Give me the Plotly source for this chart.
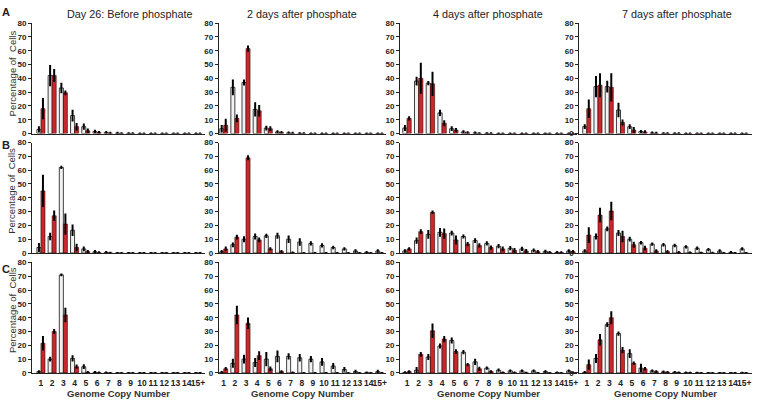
import plotly.graph_objects as go
from plotly.subplots import make_subplots

categories = ["1","2","3","4","5","6","7","8","9","10","11","12","13","14","15+"]
col_titles = ["Day 26: Before phosphate", "2 days after phosphate", "4 days after phosphate", "7 days after phosphate"]
row_labels = ["A", "B", "C"]
y_ticks = [0, 10, 20, 30, 40, 50, 60, 70, 80]

# Row A
A1_white = [3, 42, 33, 13, 5, 1.5, 0.8, 0.3, 0.2, 0, 0, 0, 0, 0, 0]
A1_white_err = [1.5, 7, 3, 3.5, 1.5, 0.5, 0.3, 0.2, 0.1, 0, 0, 0, 0, 0, 0]
A1_red = [18, 42, 29.5, 5, 2, 0.8, 0.3, 0.2, 0.1, 0, 0, 0, 0, 0, 0]
A1_red_err = [7, 4, 1, 2, 1, 0.3, 0.2, 0.1, 0.1, 0, 0, 0, 0, 0, 0]

A2_white = [3.5, 33.5, 37, 17.5, 4, 1.2, 0.5, 0.2, 0, 0, 0, 0, 0, 0, 0]
A2_white_err = [2, 5, 1.5, 4.5, 1, 0.4, 0.2, 0.1, 0, 0, 0, 0, 0, 0, 0]
A2_red = [6, 11, 61.5, 16.5, 3.5, 0.8, 0.3, 0.1, 0, 0, 0, 0, 0, 0, 0]
A2_red_err = [4, 2, 1.5, 3.5, 1, 0.3, 0.2, 0.1, 0, 0, 0, 0, 0, 0, 0]

A3_white = [4, 38, 36.5, 15, 3.5, 1.2, 0.5, 0.2, 0, 0, 0, 0, 0, 0, 0]
A3_white_err = [1.5, 2.5, 0.8, 1.5, 1, 0.4, 0.2, 0.1, 0, 0, 0, 0, 0, 0, 0]
A3_red = [11, 40, 36, 7.5, 2.5, 0.6, 0.2, 0.1, 0, 0, 0, 0, 0, 0, 0]
A3_red_err = [0.8, 10.5, 8, 1.5, 0.8, 0.3, 0.1, 0.1, 0, 0, 0, 0, 0, 0, 0]

A4_white = [5, 34, 34, 17, 5, 1.5, 0.5, 0.2, 0.1, 0, 0, 0, 0, 0, 0]
A4_white_err = [1, 7, 3.5, 4.5, 1, 0.4, 0.2, 0.1, 0.1, 0, 0, 0, 0, 0, 0]
A4_red = [18, 35, 33.5, 8, 2.5, 1.2, 0.3, 0.2, 0.1, 0, 0, 0, 0, 0, 0]
A4_red_err = [6, 8, 9.5, 1.5, 1.5, 0.4, 0.2, 0.1, 0.1, 0, 0, 0, 0, 0, 0]

# Row B
B1_white = [4, 12, 62, 16.5, 3, 1, 0.5, 0, 0, 0, 0, 0, 0, 0, 0]
B1_white_err = [2.5, 2, 0.5, 3.5, 1, 0.4, 0.2, 0, 0, 0, 0, 0, 0, 0, 0]
B1_red = [45, 27, 21, 4, 1, 0.3, 0.1, 0, 0, 0, 0, 0, 0, 0, 0]
B1_red_err = [11, 3, 7, 2, 0.5, 0.2, 0.1, 0, 0, 0, 0, 0, 0, 0, 0]

B2_white = [1, 6, 10, 12, 12.5, 12.5, 10, 8, 7, 5.5, 4, 3, 1.5, 0.5, 1.5]
B2_white_err = [0.5, 1, 1.5, 1.5, 0.8, 1.5, 2, 2, 0.8, 0.8, 0.5, 0.5, 0.5, 0.2, 0.5]
B2_red = [3, 11.5, 69, 9.5, 3, 1.2, 0.3, 0, 0, 0, 0, 0, 0, 0, 0]
B2_red_err = [1, 1, 1, 1, 0.5, 0.3, 0.1, 0, 0, 0, 0, 0, 0, 0, 0]

B3_white = [1.5, 9, 13.5, 15, 14.5, 12, 9, 7, 5, 3.5, 3, 2, 1.2, 0.5, 1.5]
B3_white_err = [0.5, 1.5, 2.5, 2.5, 1, 0.8, 1, 0.8, 0.8, 0.8, 0.8, 0.5, 0.4, 0.2, 0.5]
B3_red = [3, 15.5, 29.5, 14, 9.5, 6.5, 5.5, 4, 3, 2, 1.5, 1, 0.5, 0.3, 1]
B3_red_err = [0.5, 1, 0.5, 3, 2.5, 0.8, 0.8, 0.8, 1, 1, 0.8, 0.5, 0.3, 0.2, 0.5]

B4_white = [1.5, 12, 17.5, 14.5, 10, 7.5, 6.5, 6, 5.5, 4.5, 3.5, 2.5, 1.5, 0.5, 3]
B4_white_err = [0.5, 1.5, 1, 1.5, 1, 0.5, 0.5, 0.5, 0.5, 0.5, 0.5, 0.5, 0.5, 0.2, 0.5]
B4_red = [13, 27.5, 30.5, 12, 6, 3.5, 1.5, 1, 0.5, 0.3, 0.2, 0.1, 0, 0, 0]
B4_red_err = [5, 4.5, 6, 3.5, 1.5, 1, 0.5, 0.5, 0.2, 0.1, 0.1, 0.1, 0, 0, 0]

# Row C
C1_white = [1, 10, 71, 10.5, 4.5, 0.5, 0.2, 0, 0, 0, 0, 0, 0, 0, 0]
C1_white_err = [0.3, 1, 0.3, 1.5, 1, 0.2, 0.1, 0, 0, 0, 0, 0, 0, 0, 0]
C1_red = [21.5, 30, 42, 4.5, 0.5, 0.2, 0, 0, 0, 0, 0, 0, 0, 0, 0]
C1_red_err = [4.5, 1, 4.5, 0.8, 0.2, 0.1, 0, 0, 0, 0, 0, 0, 0, 0, 0]

C2_white = [0.5, 7, 10, 7.5, 10, 12, 12, 11, 10, 8, 5, 2.5, 1, 0.2, 1]
C2_white_err = [0.2, 2.5, 2.5, 2.5, 4.5, 3.5, 1.5, 2, 1.5, 2, 1.5, 1, 0.5, 0.1, 0.5]
C2_red = [3, 42, 36, 12.5, 3, 1, 0.3, 0, 0, 0, 0, 0, 0, 0, 0]
C2_red_err = [0.5, 6, 3.5, 2.5, 1, 0.3, 0.1, 0, 0, 0, 0, 0, 0, 0, 0]

C3_white = [0.3, 2, 11.5, 19.5, 23.5, 15, 8, 3.5, 2, 1.5, 1.5, 1.5, 1, 0.2, 1.5]
C3_white_err = [0.2, 1.5, 1.5, 1, 1.5, 0.8, 1.5, 0.5, 0.5, 0.3, 0.3, 0.3, 0.3, 0.1, 0.3]
C3_red = [1, 13.5, 30.5, 24.5, 15.5, 6, 3, 1, 0.3, 0.2, 0.1, 0, 0, 0, 0.3]
C3_red_err = [0.3, 1, 4.5, 1.5, 1, 0.5, 0.8, 0.3, 0.1, 0.1, 0.1, 0, 0, 0, 0.1]

C4_white = [0.5, 10.5, 35, 28.5, 14, 3.5, 1.5, 0.8, 0.5, 0.2, 0.1, 0, 0, 0, 0.1]
C4_white_err = [0.2, 2.5, 1, 0.8, 2.5, 2.5, 0.3, 0.2, 0.2, 0.1, 0.1, 0, 0, 0, 0.1]
C4_red = [6, 24, 40, 16.5, 7, 3, 1, 0.5, 0.3, 0.1, 0, 0, 0, 0, 0]
C4_red_err = [3, 3.5, 4, 1.5, 0.5, 0.5, 0.3, 0.2, 0.1, 0.1, 0, 0, 0, 0, 0]

panels = [
    [(A1_white, A1_white_err, A1_red, A1_red_err), (A2_white, A2_white_err, A2_red, A2_red_err),
     (A3_white, A3_white_err, A3_red, A3_red_err), (A4_white, A4_white_err, A4_red, A4_red_err)],
    [(B1_white, B1_white_err, B1_red, B1_red_err), (B2_white, B2_white_err, B2_red, B2_red_err),
     (B3_white, B3_white_err, B3_red, B3_red_err), (B4_white, B4_white_err, B4_red, B4_red_err)],
    [(C1_white, C1_white_err, C1_red, C1_red_err), (C2_white, C2_white_err, C2_red, C2_red_err),
     (C3_white, C3_white_err, C3_red, C3_red_err), (C4_white, C4_white_err, C4_red, C4_red_err)],
]

W, H = 758, 406
col_px = [(32, 205), (219, 387), (400.5, 577.5), (580, 752.5)]
col_range = [(-0.8, 14.6), (-0.45, 14.6), (-0.6, 14.5), (-0.67, 14.65)]
row_px = [(19.5, 132.5), (141.7, 254.7), (264.3, 377.3)]

fig = make_subplots(rows=3, cols=4)

WHITE = "#f2f2f2"
RED = "#c8282b"

for r in range(3):
    for c in range(4):
        w, we, rd, re_ = panels[r][c]
        fig.add_trace(go.Bar(x=categories, y=w, marker=dict(color=WHITE, line=dict(color="#111", width=0.8)),
                             error_y=dict(type="data", array=we, color="black", thickness=2.0, width=1.0),
                             showlegend=False, hoverinfo="skip"), row=r + 1, col=c + 1)
        fig.add_trace(go.Bar(x=categories, y=rd, marker=dict(color=RED, line=dict(color="#3a0000", width=0.6)),
                             error_y=dict(type="data", array=re_, color="black", thickness=2.0, width=1.0),
                             showlegend=False, hoverinfo="skip"), row=r + 1, col=c + 1)

for r in range(3):
    for c in range(4):
        idx = r * 4 + c + 1
        xa = "xaxis" if idx == 1 else f"xaxis{idx}"
        ya = "yaxis" if idx == 1 else f"yaxis{idx}"
        x0, x1 = col_px[c]
        y0, y1 = row_px[r]
        fig.layout[xa].update(
            domain=[x0 / W, x1 / W], range=list(col_range[c]), type="category",
            showline=True, linecolor="#222", linewidth=1, showgrid=False, zeroline=False,
            ticks="", showticklabels=(r == 2), tickangle=0, ticklabelstandoff=2,
            tickfont=dict(family="Liberation Sans", size=8.5, color="#222", weight="bold"),
        )
        fig.layout[ya].update(
            domain=[1 - y1 / H, 1 - y0 / H], range=[0, 80], tickvals=y_ticks,
            showline=True, linecolor="#222", linewidth=1, showgrid=False, zeroline=False,
            ticks="outside", ticklen=3, tickwidth=1, tickcolor="#222",
            tickfont=dict(family="Liberation Sans", size=8, color="#222", weight="bold"),
        )

annotations = []
title_centers = [130, 302, 489, 678]
for c, t in enumerate(col_titles):
    annotations.append(dict(text=t, x=title_centers[c] / W, y=1 - 10 / H, xref="paper", yref="paper",
                            xanchor="center", yanchor="middle", showarrow=False,
                            font=dict(family="Liberation Sans", size=10.8, color="#222")))
for c in range(4):
    x0, x1 = col_px[c]
    annotations.append(dict(text="Genome Copy Number", x=(x0 + x1) / 2 / W, y=1 - 398.5 / H,
                            xref="paper", yref="paper", xanchor="center", yanchor="middle", showarrow=False,
                            font=dict(family="Liberation Sans", size=9.5, color="#333", weight="bold")))
label_y = [8, 144, 271]
for r, lab in enumerate(row_labels):
    annotations.append(dict(text=lab, x=6 / W, y=1 - label_y[r] / H, xref="paper", yref="paper",
                            xanchor="center", yanchor="middle", showarrow=False,
                            font=dict(family="Liberation Sans", size=11, color="#222", weight="bold")))
ytitle_y = [71, 191, 313]
for r in range(3):
    annotations.append(dict(text="Percentage of  Cells", x=12 / W, y=1 - ytitle_y[r] / H, xref="paper", yref="paper",
                            xanchor="center", yanchor="middle", showarrow=False, textangle=-90,
                            font=dict(family="Liberation Sans", size=9.5, color="#333")))

fig.update_layout(
    width=W, height=H, margin=dict(l=0, r=0, t=0, b=0),
    paper_bgcolor="white", plot_bgcolor="white",
    barmode="group", bargap=0.28, bargroupgap=0.0,
    annotations=annotations,
)

fig.write_html("out.html", config={"displayModeBar": False},
               post_script="document.body.style.margin='0';")
